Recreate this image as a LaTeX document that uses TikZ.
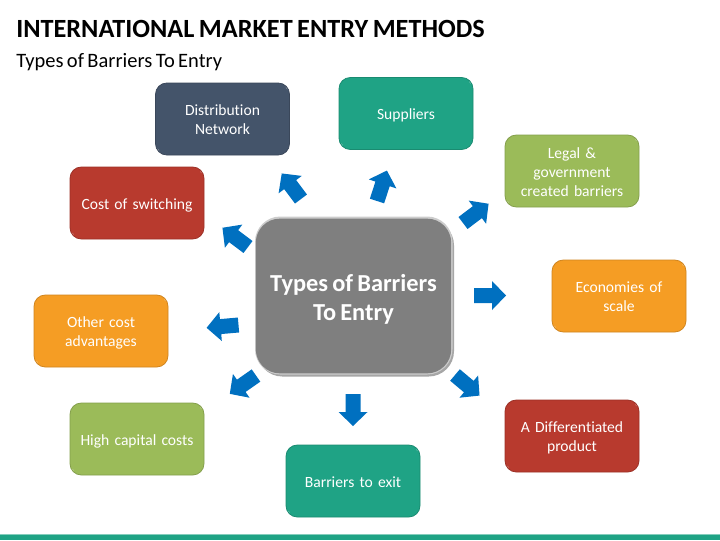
\documentclass[tikz,border=0pt]{standalone}
\usepackage{fontspec}
\setmainfont[Ligatures=NoCommon,WordSpace=0.75]{Carlito}
\usetikzlibrary{calc}
\definecolor{navybox}{HTML}{44546A}
\definecolor{tealbox}{HTML}{1FA385}
\definecolor{greenbox}{HTML}{9BBB59}
\definecolor{orangebox}{HTML}{F59D24}
\definecolor{redbox}{HTML}{B83A2E}
\definecolor{arrowblue}{HTML}{0070C0}
\definecolor{centregrey}{HTML}{7F7F7F}
\tikzset{
  x=0.75pt,y=-0.75pt,
  itembox/.style={draw=#1!85!black,line width=0.6pt,fill=#1,rounded corners=8.5pt,
    minimum width=100.5pt,minimum height=54pt,inner sep=2pt,align=center,text=white,
    font=\fontsize{11.7pt}{14.25pt}\selectfont,text width=92pt,
    path picture={
      \draw[white,opacity=.35,line width=2pt,line cap=round]
        ($(path picture bounding box.north east)+(-7pt,1.6pt)$) arc[start angle=90,end angle=0,radius=5.4pt];
      \draw[white,opacity=.35,line width=2pt,line cap=round]
        ($(path picture bounding box.south west)+(7pt,-1.6pt)$) arc[start angle=270,end angle=180,radius=5.4pt];
    }},
  centrebox/.style={fill=centregrey,rounded corners=18pt,minimum width=146.5pt,minimum height=116pt,
    inner sep=0pt,align=center,text=white,font=\bfseries\fontsize{18.3pt}{21.75pt}\selectfont},
  barrow/.style={fill=arrowblue,draw=none},
  titletext/.style={anchor=base west,inner sep=0pt,font=\bfseries\fontsize{19.7pt}{22pt}\selectfont,text=black},
  subtext/.style={anchor=base west,inner sep=0pt,font=\fontsize{15.35pt}{17pt}\selectfont,text=black}
}
% centred lines of text; the kern on top lets them sit a little below the middle of the box
\newcommand{\boxlines}[2][3.8pt]{\vbox{\kern#1\hbox{\begin{tabular}{@{}c@{}}#2\end{tabular}}}}
% block arrow: tail point, angle (counter-clockwise, degrees), 32px long
\newcommand{\blockarrow}[3]{%
  \coordinate (#1) at (#2);
  \begin{scope}[shift={(#1)},rotate=#3,x=0.75pt,y=0.75pt]
    \fill[barrow] (0,-7.5) -- (18,-7.5) -- (18,-14.5) -- (32,0) -- (18,14.5) -- (18,7.5) -- (0,7.5) -- cycle;
  \end{scope}}
\begin{document}
\begin{tikzpicture}
\useasboundingbox (0,0) rectangle (720,540);
\fill[white] (0,0) rectangle (720,540);
\fill[tealbox!55!white] (0,534) rectangle (720,535);
\fill[tealbox] (0,535) rectangle (720,540);
\node[titletext] (title) at (16,37) {INTERNATIONAL MARKET ENTRY METHODS};
\node[subtext] (sub) at (16,67) {Types of Barriers To Entry};

\node[itembox=navybox] (dist) at (222.5,119) {\boxlines{Distribution\\Network}};
\node[itembox=tealbox] (supp) at (406,113.5) {\boxlines{Suppliers}};
\node[itembox=greenbox] (legal) at (572,171) {\boxlines{Legal \&\\government\\created barriers}};
\node[itembox=orangebox] (econ) at (619,296) {\boxlines{Economies of\\scale}};
\node[itembox=redbox] (diff) at (572,436) {\boxlines{A Differentiated\\product}};
\node[itembox=tealbox] (exit) at (353,481) {\boxlines{Barriers to exit}};
\node[itembox=greenbox] (high) at (137,439) {\boxlines{High capital costs}};
\node[itembox=orangebox] (other) at (101,331) {\boxlines{Other cost\\advantages}};
\node[itembox=redbox] (cost) at (137,203) {\boxlines{Cost of switching}};

\fill[black!35,rounded corners=19pt] (257,220) rectangle (454,376.5);
\fill[black!20,rounded corners=19pt] (255,216.5) rectangle (452.5,374.5);
\node[centrebox] (centre) at (353.5,296) {\boxlines[6pt]{Types of Barriers\\To Entry}};

\blockarrow{a1}{301,199}{127}
\blockarrow{a2}{377,201}{72}
\blockarrow{a3}{463,223}{37}
\blockarrow{a4}{474,295.5}{0}
\blockarrow{a5}{455,375}{-40}
\blockarrow{a6}{353,394}{-90}
\blockarrow{a7}{256,375.5}{-145}
\blockarrow{a8}{238.5,325}{-175}
\blockarrow{a9}{248,247}{143}
\end{tikzpicture}
\end{document}
